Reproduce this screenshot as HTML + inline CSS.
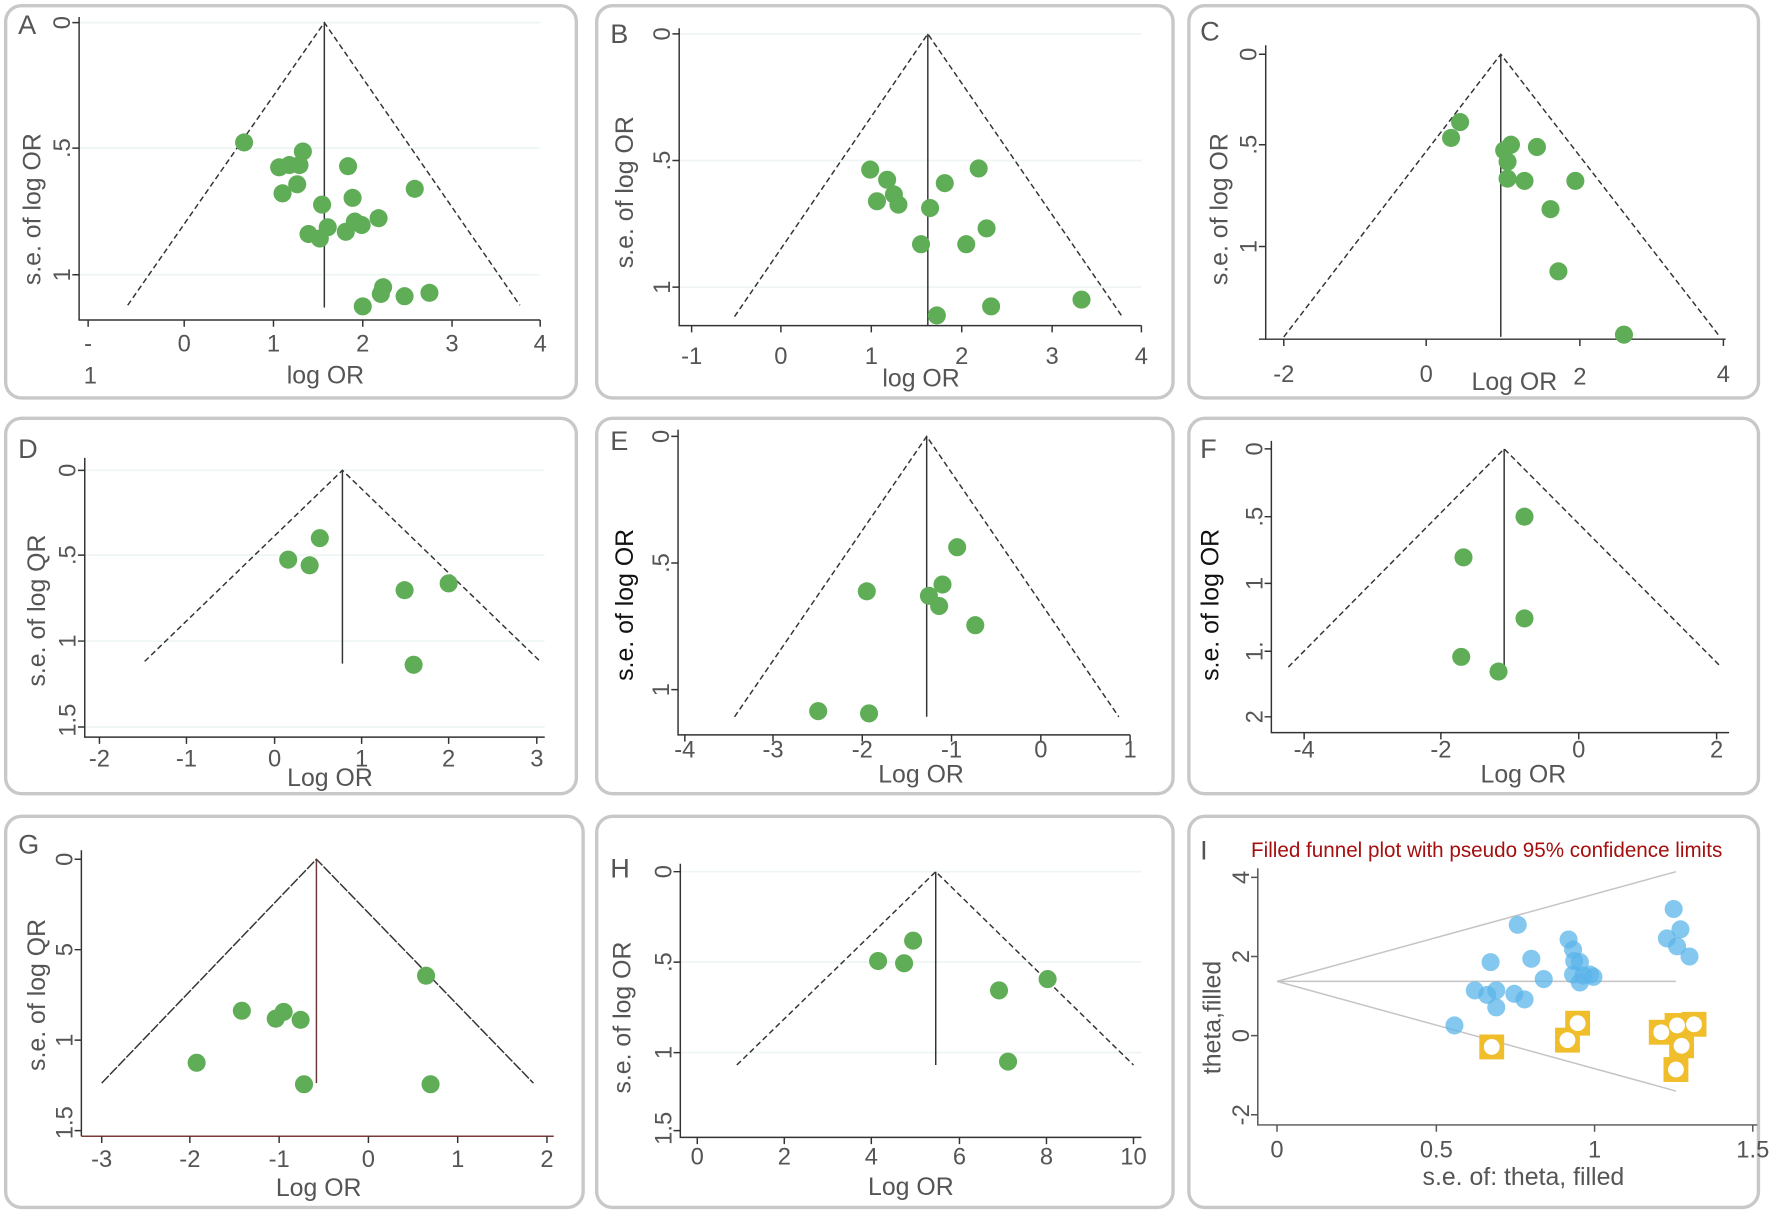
<!DOCTYPE html>
<html><head><meta charset="utf-8"><style>
html,body{margin:0;padding:0;background:#fff}
svg{display:block}
text{font-family:"Liberation Sans",sans-serif;fill:#555}
.t{font-size:21px}
.l{font-size:22px}
.p{font-size:24px}
.g circle{fill:#5fad56}
.b circle{fill:#5bb4ea;fill-opacity:.75}
</style></head><body>
<svg width="1772" height="1212" viewBox="0 0 1568 1072" preserveAspectRatio="none" xmlns="http://www.w3.org/2000/svg">
<g fill="none" stroke="#c8c8c8" stroke-width="3">
<rect x="5" y="5" width="505" height="347" rx="14"/>
<rect x="528" y="5" width="510" height="347" rx="14"/>
<rect x="1052" y="5" width="504" height="347" rx="14"/>
<rect x="5" y="370" width="505" height="332" rx="14"/>
<rect x="528" y="370" width="510" height="332" rx="14"/>
<rect x="1052" y="370" width="504" height="332" rx="14"/>
<rect x="5" y="722" width="511" height="346" rx="14"/>
<rect x="528" y="722" width="510" height="346" rx="14"/>
<rect x="1052" y="722" width="504" height="346" rx="14"/>
</g>

<!-- A -->
<g stroke="#eef5f3" stroke-width="1.5"><line x1="70" y1="20" x2="478" y2="20"/><line x1="70" y1="131" x2="478" y2="131"/><line x1="70" y1="243" x2="478" y2="243"/></g>
<g stroke="#333" stroke-width="1.3" fill="none">
<path d="M70 15V283H478"/>
<path d="M64 20H70M64 131H70M64 243H70M78 283v6M163 283v6M242 283v6M321 283v6M400 283v6M478 283v6"/>
<path d="M113 270L287 20L460 270" stroke-dasharray="5,3"/>
<path d="M287 20V272"/>
</g>
<g class="g"><circle cx="216" cy="126" r="8"/><circle cx="247" cy="148" r="8"/><circle cx="256" cy="146" r="8"/><circle cx="265" cy="146" r="8"/><circle cx="268" cy="134" r="8"/><circle cx="263" cy="163" r="8"/><circle cx="250" cy="171" r="8"/><circle cx="285" cy="181" r="8"/><circle cx="308" cy="147" r="8"/><circle cx="312" cy="175" r="8"/><circle cx="367" cy="167" r="8"/><circle cx="273" cy="207" r="8"/><circle cx="283" cy="211" r="8"/><circle cx="290" cy="201" r="8"/><circle cx="306" cy="205" r="8"/><circle cx="314" cy="196" r="8"/><circle cx="320" cy="199" r="8"/><circle cx="335" cy="193" r="8"/><circle cx="321" cy="271" r="8"/><circle cx="337" cy="260" r="8"/><circle cx="339" cy="254" r="8"/><circle cx="358" cy="262" r="8"/><circle cx="380" cy="259" r="8"/></g>
<text class="p" x="16" y="30">A</text>
<g class="t" text-anchor="middle"><text transform="translate(62,20) rotate(-90)">0</text><text transform="translate(62,131) rotate(-90)">.5</text><text transform="translate(62,243) rotate(-90)">1</text>
<text x="78" y="311">-</text><text x="163" y="311">0</text><text x="242" y="311">1</text><text x="321" y="311">2</text><text x="400" y="311">3</text><text x="478" y="311">4</text><text x="80" y="339">1</text></g>
<text class="l" text-anchor="middle" x="288" y="339">log OR</text>
<text class="l" text-anchor="middle" transform="translate(36,185) rotate(-90)">s.e. of log OR</text>

<!-- B -->
<g stroke="#eef5f3" stroke-width="1.5"><line x1="601" y1="30" x2="1010" y2="30"/><line x1="601" y1="142" x2="1010" y2="142"/><line x1="601" y1="254" x2="1010" y2="254"/></g>
<g stroke="#333" stroke-width="1.3" fill="none">
<path d="M601 25V288H1010"/>
<path d="M595 30H601M595 142H601M595 254H601M612 288v6M691 288v6M771 288v6M851 288v6M931 288v6M1010 288v6"/>
<path d="M650 280L821 30L993 280" stroke-dasharray="5,3"/>
<path d="M821 30V288"/>
</g>
<g class="g"><circle cx="770" cy="150" r="8"/><circle cx="785" cy="159" r="8"/><circle cx="791" cy="172" r="8"/><circle cx="776" cy="178" r="8"/><circle cx="795" cy="181" r="8"/><circle cx="836" cy="162" r="8"/><circle cx="866" cy="149" r="8"/><circle cx="823" cy="184" r="8"/><circle cx="815" cy="216" r="8"/><circle cx="855" cy="216" r="8"/><circle cx="873" cy="202" r="8"/><circle cx="829" cy="279" r="8"/><circle cx="877" cy="271" r="8"/><circle cx="957" cy="265" r="8"/></g>
<text class="p" x="540" y="38">B</text>
<g class="t" text-anchor="middle"><text transform="translate(593,30) rotate(-90)">0</text><text transform="translate(593,142) rotate(-90)">.5</text><text transform="translate(593,254) rotate(-90)">1</text>
<text x="612" y="322">-1</text><text x="691" y="322">0</text><text x="771" y="322">1</text><text x="851" y="322">2</text><text x="931" y="322">3</text><text x="1010" y="322">4</text></g>
<text class="l" text-anchor="middle" x="815" y="342">log OR</text>
<text class="l" text-anchor="middle" transform="translate(560,170) rotate(-90)">s.e. of log OR</text>

<!-- C -->
<g stroke="#333" stroke-width="1.3" fill="none">
<path d="M1120 40V300H1527"/>
<path d="M1114 48H1120M1114 128H1120M1114 218H1120M1114 300H1120M1136 300v6M1262 300v6M1398 300v6M1525 300v6"/>
<path d="M1136 298L1328 48L1522 298" stroke-dasharray="5,3"/>
<path d="M1328 48V298"/>
</g>
<g class="g"><circle cx="1292" cy="108" r="8"/><circle cx="1284" cy="122" r="8"/><circle cx="1337" cy="128" r="8"/><circle cx="1331" cy="133" r="8"/><circle cx="1334" cy="143" r="8"/><circle cx="1360" cy="130" r="8"/><circle cx="1334" cy="158" r="8"/><circle cx="1349" cy="160" r="8"/><circle cx="1394" cy="160" r="8"/><circle cx="1372" cy="185" r="8"/><circle cx="1379" cy="240" r="8"/><circle cx="1437" cy="296" r="8"/></g>
<text class="p" x="1062" y="36">C</text>
<g class="t" text-anchor="middle"><text transform="translate(1112,48) rotate(-90)">0</text><text transform="translate(1112,128) rotate(-90)">.5</text><text transform="translate(1112,218) rotate(-90)">1</text>
<text x="1136" y="338">-2</text><text x="1262" y="338">0</text><text x="1398" y="340">2</text><text x="1525" y="338">4</text></g>
<text class="l" text-anchor="middle" x="1340" y="345">Log OR</text>
<text class="l" text-anchor="middle" transform="translate(1086,185) rotate(-90)">s.e. of log OR</text>

<!-- D -->
<g stroke="#eef5f3" stroke-width="1.5"><line x1="75" y1="416" x2="482" y2="416"/><line x1="75" y1="491" x2="482" y2="491"/><line x1="75" y1="567" x2="482" y2="567"/><line x1="75" y1="643" x2="482" y2="643"/></g>
<g stroke="#333" stroke-width="1.3" fill="none">
<path d="M75 405V652H482"/>
<path d="M69 416H75M69 491H75M69 567H75M69 643H75M88 652v6M165 652v6M243 652v6M320 652v6M397 652v6M475 652v6"/>
<path d="M128 585L303 416L478 585" stroke-dasharray="5,3"/>
<path d="M303 416V587"/>
</g>
<g class="g"><circle cx="283" cy="476" r="8"/><circle cx="255" cy="495" r="8"/><circle cx="274" cy="500" r="8"/><circle cx="358" cy="522" r="8"/><circle cx="397" cy="516" r="8"/><circle cx="366" cy="588" r="8"/></g>
<text class="p" x="16" y="405">D</text>
<g class="t" text-anchor="middle"><text transform="translate(67,416) rotate(-90)">0</text><text transform="translate(67,491) rotate(-90)">.5</text><text transform="translate(67,567) rotate(-90)">1</text><text transform="translate(67,637) rotate(-90)">1.5</text>
<text x="88" y="678">-2</text><text x="165" y="678">-1</text><text x="243" y="678">0</text><text x="320" y="678">1</text><text x="397" y="678">2</text><text x="475" y="678">3</text></g>
<text class="l" text-anchor="middle" x="292" y="695">Log OR</text>
<text class="l" text-anchor="middle" transform="translate(40,540) rotate(-90)">s.e. of log QR</text>

<!-- E -->
<g stroke="#333" stroke-width="1.3" fill="none">
<path d="M600 380V650H1000"/>
<path d="M594 386H600M594 498H600M594 610H600M606 650v6M684 650v6M763 650v6M842 650v6M921 650v6M1000 650v6"/>
<path d="M650 634L820 386L990 634" stroke-dasharray="5,3"/>
<path d="M820 386V634"/>
</g>
<g class="g"><circle cx="847" cy="484" r="8"/><circle cx="834" cy="517" r="8"/><circle cx="822" cy="527" r="8"/><circle cx="831" cy="536" r="8"/><circle cx="767" cy="523" r="8"/><circle cx="863" cy="553" r="8"/><circle cx="724" cy="629" r="8"/><circle cx="769" cy="631" r="8"/></g>
<text class="p" x="540" y="398">E</text>
<g class="t" text-anchor="middle" style="fill:#111"><text transform="translate(592,386) rotate(-90)">0</text><text transform="translate(592,498) rotate(-90)">.5</text><text transform="translate(592,610) rotate(-90)">1</text></g>
<g class="t" text-anchor="middle"><text x="606" y="670">-4</text><text x="684" y="670">-3</text><text x="763" y="670">-2</text><text x="842" y="670">-1</text><text x="921" y="670">0</text><text x="1000" y="670">1</text></g>
<text class="l" text-anchor="middle" x="815" y="692">Log OR</text>
<text class="l" text-anchor="middle" transform="translate(560,535) rotate(-90)" style="fill:#111">s.e. of log OR</text>

<!-- F -->
<g stroke="#333" stroke-width="1.3" fill="none">
<path d="M1125 390V648H1530"/>
<path d="M1119 397H1125M1119 457H1125M1119 516H1125M1119 576H1125M1119 634H1125M1154 648v6M1275 648v6M1397 648v6M1519 648v6"/>
<path d="M1140 590L1331 397L1523 590" stroke-dasharray="5,3"/>
<path d="M1331 397V590"/>
</g>
<g class="g"><circle cx="1349" cy="457" r="8"/><circle cx="1295" cy="493" r="8"/><circle cx="1349" cy="547" r="8"/><circle cx="1293" cy="581" r="8"/><circle cx="1326" cy="594" r="8"/></g>
<text class="p" x="1062" y="405">F</text>
<g class="t" text-anchor="middle" style="fill:#111"><text transform="translate(1117,397) rotate(-90)">0</text><text transform="translate(1117,457) rotate(-90)">.5</text><text transform="translate(1117,516) rotate(-90)">1</text><text transform="translate(1117,576) rotate(-90)">1.</text><text transform="translate(1117,634) rotate(-90)">2</text></g>
<g class="t" text-anchor="middle"><text x="1154" y="670">-4</text><text x="1275" y="670">-2</text><text x="1397" y="670">0</text><text x="1519" y="670">2</text></g>
<text class="l" text-anchor="middle" x="1348" y="692">Log OR</text>
<text class="l" text-anchor="middle" transform="translate(1078,535) rotate(-90)" style="fill:#111">s.e. of log OR</text>

<!-- G -->
<g stroke="#333" stroke-width="1.3" fill="none">
<path d="M72 752V1005"/>
<path d="M72 1005H490" stroke="#7a3a3a"/>
<path d="M66 760H72M66 840H72M66 920H72M66 1000H72M90 1005v6M168 1005v6M247 1005v6M326 1005v6M405 1005v6M484 1005v6"/>
<path d="M90 958L280 760L472 958" stroke-dasharray="9,1.5"/>
<path d="M280 760V958" stroke="#6a3a3a"/>
</g>
<g class="g"><circle cx="377" cy="863" r="8"/><circle cx="214" cy="894" r="8"/><circle cx="251" cy="895" r="8"/><circle cx="244" cy="901" r="8"/><circle cx="266" cy="902" r="8"/><circle cx="174" cy="940" r="8"/><circle cx="269" cy="959" r="8"/><circle cx="381" cy="959" r="8"/></g>
<text class="p" x="16" y="755">G</text>
<g class="t" text-anchor="middle"><text transform="translate(64,760) rotate(-90)">0</text><text transform="translate(64,840) rotate(-90)">5</text><text transform="translate(64,920) rotate(-90)">1</text><text transform="translate(64,993) rotate(-90)">1.5</text>
<text x="90" y="1032">-3</text><text x="168" y="1032">-2</text><text x="247" y="1032">-1</text><text x="326" y="1032">0</text><text x="405" y="1032">1</text><text x="484" y="1032">2</text></g>
<text class="l" text-anchor="middle" x="282" y="1058">Log OR</text>
<text class="l" text-anchor="middle" transform="translate(40,880) rotate(-90)">s.e. of log QR</text>

<!-- H -->
<g stroke="#eef5f3" stroke-width="1.5"><line x1="602" y1="771" x2="1010" y2="771"/><line x1="602" y1="851" x2="1010" y2="851"/><line x1="602" y1="931" x2="1010" y2="931"/></g>
<g stroke="#333" stroke-width="1.3" fill="none">
<path d="M602 764V1006H1010"/>
<path d="M596 771H602M596 851H602M596 931H602M596 1000H602M617 1006v6M694 1006v6M771 1006v6M849 1006v6M926 1006v6M1003 1006v6"/>
<path d="M652 942L828 771L1003 942" stroke-dasharray="5,3"/>
<path d="M828 771V942"/>
</g>
<g class="g"><circle cx="808" cy="832" r="8"/><circle cx="777" cy="850" r="8"/><circle cx="800" cy="852" r="8"/><circle cx="884" cy="876" r="8"/><circle cx="927" cy="866" r="8"/><circle cx="892" cy="939" r="8"/></g>
<text class="p" x="540" y="776">H</text>
<g class="t" text-anchor="middle"><text transform="translate(594,771) rotate(-90)">0</text><text transform="translate(594,851) rotate(-90)">.5</text><text transform="translate(594,931) rotate(-90)">1</text><text transform="translate(594,998) rotate(-90)">1.5</text>
<text x="617" y="1030">0</text><text x="694" y="1030">2</text><text x="771" y="1030">4</text><text x="849" y="1030">6</text><text x="926" y="1030">8</text><text x="1003" y="1030">10</text></g>
<text class="l" text-anchor="middle" x="806" y="1057">Log OR</text>
<text class="l" text-anchor="middle" transform="translate(558,900) rotate(-90)">s.e. of log OR</text>

<!-- I -->
<g stroke="#555" stroke-width="1.3" fill="none">
<path d="M1113 768V995H1555"/>
<path d="M1107 776H1113M1107 846H1113M1107 916H1113M1107 986H1113M1130 995v6M1271 995v6M1411 995v6M1551 995v6"/>
</g>
<g stroke="#c4c4c4" stroke-width="1.3" fill="none"><path d="M1130 868L1483 771M1130 868H1483M1130 868L1483 965"/></g>
<g class="b"><circle cx="1343" cy="818" r="8"/><circle cx="1319" cy="851" r="8"/><circle cx="1355" cy="848" r="8"/><circle cx="1366" cy="866" r="8"/><circle cx="1305" cy="876" r="8"/><circle cx="1316" cy="880" r="8"/><circle cx="1324" cy="876" r="8"/><circle cx="1340" cy="879" r="8"/><circle cx="1349" cy="884" r="8"/><circle cx="1324" cy="891" r="8"/><circle cx="1287" cy="907" r="8"/><circle cx="1388" cy="831" r="8"/><circle cx="1392" cy="840" r="8"/><circle cx="1393" cy="850" r="8"/><circle cx="1398" cy="851" r="8"/><circle cx="1392" cy="862" r="8"/><circle cx="1401" cy="863" r="8"/><circle cx="1407" cy="862" r="8"/><circle cx="1398" cy="869" r="8"/><circle cx="1410" cy="864" r="8"/><circle cx="1481" cy="804" r="8"/><circle cx="1475" cy="830" r="8"/><circle cx="1487" cy="822" r="8"/><circle cx="1484" cy="837" r="8"/><circle cx="1495" cy="846" r="8"/></g>
<g fill="#f0bd2b"><rect x="1309" y="915" width="22" height="22"/><rect x="1376" y="909" width="22" height="22"/><rect x="1385" y="894" width="22" height="22"/><rect x="1459" y="902" width="22" height="22"/><rect x="1473" y="896" width="22" height="22"/><rect x="1488" y="895" width="22" height="22"/><rect x="1477" y="914" width="22" height="22"/><rect x="1472" y="935" width="22" height="22"/></g>
<g fill="#fff"><circle cx="1320" cy="926" r="7"/><circle cx="1387" cy="920" r="7"/><circle cx="1396" cy="905" r="7"/><circle cx="1470" cy="913" r="7"/><circle cx="1484" cy="907" r="7"/><circle cx="1499" cy="906" r="7"/><circle cx="1488" cy="925" r="7"/><circle cx="1483" cy="946" r="7"/></g>
<text class="p" x="1062" y="760">I</text>
<text x="1107" y="758" style="font-size:19px;fill:#a50f0f" textLength="417" lengthAdjust="spacingAndGlyphs">Filled funnel plot with pseudo 95% confidence limits</text>
<g class="t" text-anchor="middle"><text transform="translate(1105,776) rotate(-90)">4</text><text transform="translate(1105,846) rotate(-90)">2</text><text transform="translate(1105,916) rotate(-90)">0</text><text transform="translate(1105,986) rotate(-90)">-2</text>
<text x="1130" y="1024">0</text><text x="1271" y="1024">0.5</text><text x="1411" y="1024">1</text><text x="1551" y="1024">1.5</text></g>
<text class="l" text-anchor="middle" x="1348" y="1048">s.e. of: theta, filled</text>
<text class="l" text-anchor="middle" transform="translate(1080,900) rotate(-90)">theta,filled</text>
</svg>
</body></html>
